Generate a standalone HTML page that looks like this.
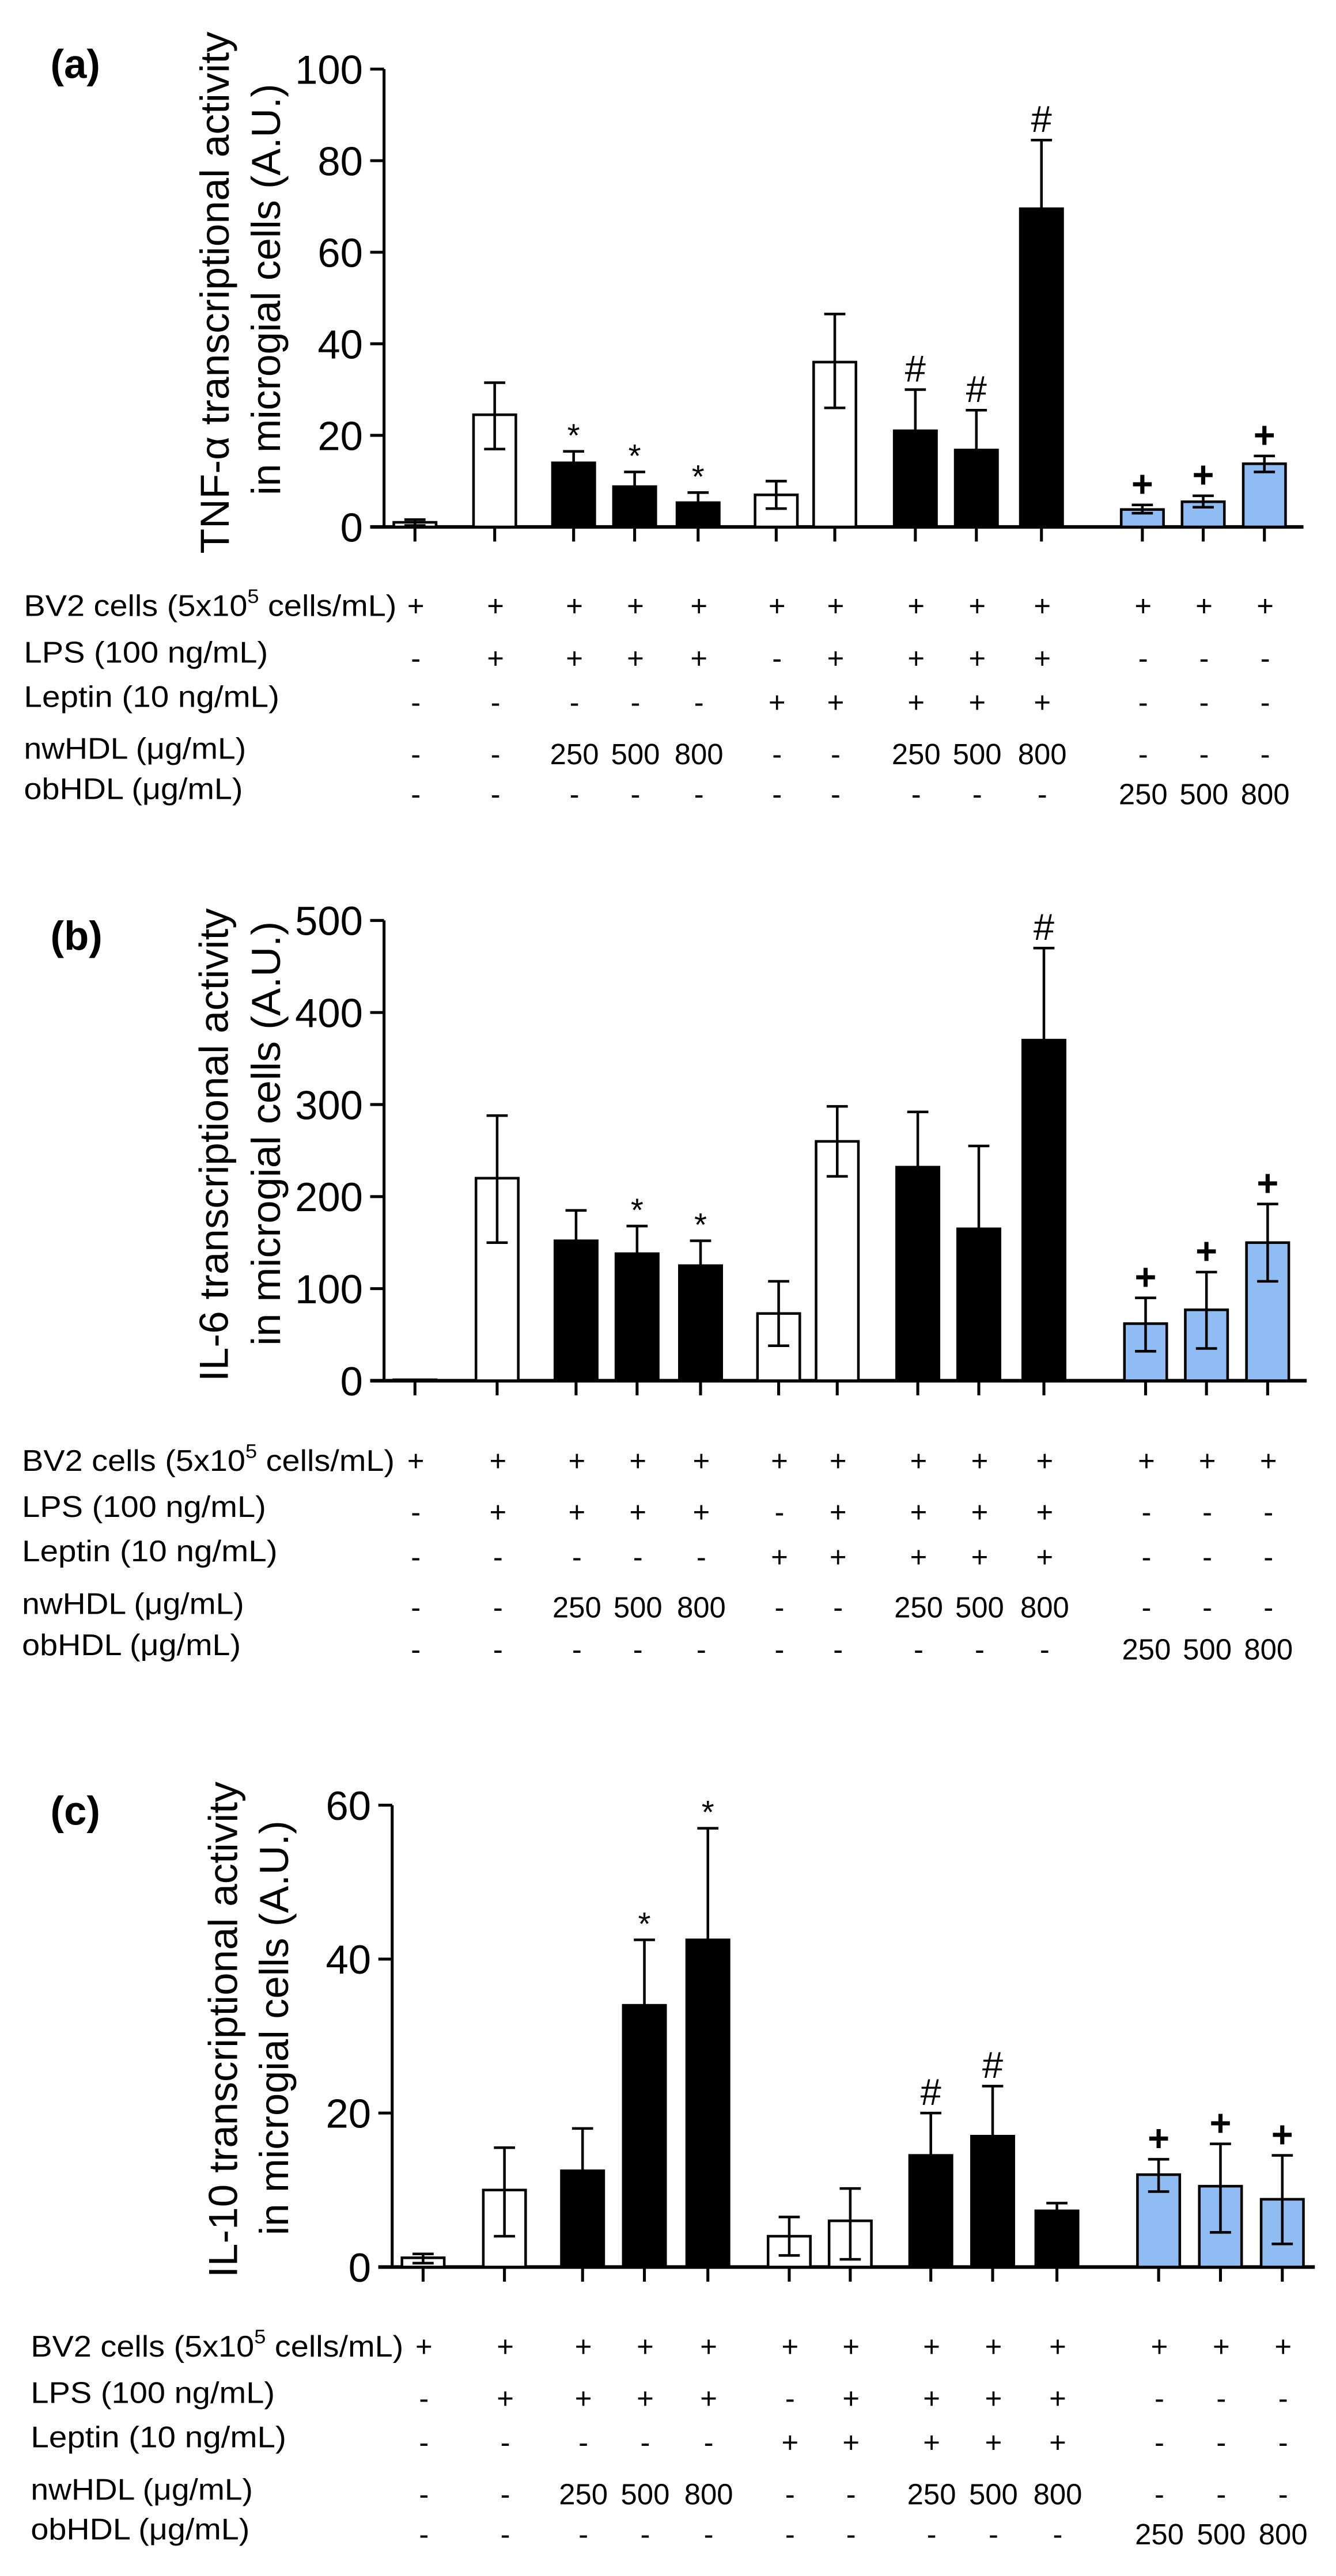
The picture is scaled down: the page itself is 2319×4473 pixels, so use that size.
<!DOCTYPE html>
<html><head><meta charset="utf-8">
<style>
html,body{margin:0;padding:0;background:#fff;}
svg{display:block;}
text{font-family:"Liberation Sans",sans-serif;fill:#000;}
</style></head>
<body>
<svg id="s" width="2319" height="4473" viewBox="0 0 821 1584" preserveAspectRatio="none" xmlns="http://www.w3.org/2000/svg"></svg>
<script>
const S=document.getElementById('s');const NS='http://www.w3.org/2000/svg';
function el(t,a,txt){const e=document.createElementNS(NS,t);for(const k in a)e.setAttribute(k,a[k]);if(txt!==undefined)e.textContent=txt;S.appendChild(e);return e;}
function line(x1,y1,x2,y2,w){el('line',{x1,y1,x2,y2,stroke:'#000','stroke-width':w||1.6});}
const BLUE='#8fbcf2';
const colors=['w','w','k','k','k','w','w','k','k','k','b','b','b'];
const rows=[
 ['BV2 cells (5x10','+','+','+','+','+','+','+','+','+','+','+','+','+'],
 ['LPS (100 ng/mL)','-','+','+','+','+','-','+','+','+','+','-','-','-'],
 ['Leptin (10 ng/mL)','-','-','-','-','-','+','+','+','+','+','-','-','-'],
 ['nwHDL (\u03bcg/mL)','-','-','250','500','800','-','-','250','500','800','-','-','-'],
 ['obHDL (\u03bcg/mL)','-','-','-','-','-','-','-','-','-','-','250','500','800']];
const labLen=[null,150,157,136.5,134.5];
function panel(p){
 const {lab,labY,ax,y0,yTop,max,step,xs,xEnd,vals,ann,yl1,yl2,b1,b2,c1,c2,len1,len2,rowL,rowV,labX}=p;
 el('text',{x:31,y:labY,'font-size':25,'font-weight':'bold'},lab);
 const sc=(y0-yTop)/max;
 line(ax,yTop,ax,y0+1,1.8);
 line(ax-8.5,y0,xEnd,y0,2.2);
 for(let v=0;v<=max+1e-9;v+=step){const y=y0-v*sc;line(ax-8.5,y,ax,y,1.8);
  el('text',{x:ax-13,y:y+9,'font-size':25,'text-anchor':'end'},String(v));}
 const bw=26;
 vals.forEach((d,i)=>{const [v,lo,hi]=d;const x=xs[i];const top=y0-v*sc;
  line(x,y0,x,y0+9,1.8);
  const c=colors[i];const f=c=='w'?'#fff':c=='k'?'#000':BLUE;
  el('rect',{x:x-bw/2,y:top,width:bw,height:y0-top,fill:f,stroke:'#000','stroke-width':1.6});
  if(hi!=null){const yh=y0-hi*sc;line(x,top,x,yh);line(x-6.5,yh,x+6.5,yh);}
  if(lo!=null&&c!='k'){const yl=y0-lo*sc;line(x,top,x,yl);line(x-6.5,yl,x+6.5,yl);}
  if(ann[i]){const yh=y0-(hi!=null?hi:v)*sc;
   el('text',{x:x,y:yh-(ann[i]=='*'?3:5),'font-size':ann[i]=='*'?20:23,'text-anchor':'middle','font-weight':ann[i]=='+'?'bold':'normal'},ann[i]);}
 });
 el('text',{transform:`translate(${b1},${c1}) rotate(-90)`,x:0,y:0,'font-size':25,'text-anchor':'middle',textLength:len1,lengthAdjust:'spacingAndGlyphs'},yl1);
 el('text',{transform:`translate(${b2},${c2}) rotate(-90)`,x:0,y:0,'font-size':25,'text-anchor':'middle',textLength:len2,lengthAdjust:'spacingAndGlyphs'},yl2);
 rows.forEach((r,ri)=>{
  if(ri==0){const t=el('text',{x:labX,y:rowL[0],'font-size':18.5,textLength:229,lengthAdjust:'spacingAndGlyphs'});
   t.appendChild(document.createTextNode('BV2 cells (5x10'));
   const s=document.createElementNS(NS,'tspan');s.setAttribute('dy',-8);s.setAttribute('font-size',12);s.textContent='5';t.appendChild(s);
   const s2=document.createElementNS(NS,'tspan');s2.setAttribute('dy',8);s2.textContent=' cells/mL)';t.appendChild(s2);}
  else el('text',{x:labX,y:rowL[ri],'font-size':18.5,textLength:labLen[ri],lengthAdjust:'spacingAndGlyphs'},r[0]);
  for(let i=0;i<13;i++)el('text',{x:xs[i]+0.5,y:rowV[ri],'font-size':18,'text-anchor':'middle'},r[i+1]);
 });
}
panel({lab:'(a)',labY:48,ax:236,y0:324,yTop:42.5,max:100,step:20,xEnd:801,
 xs:[255,304,352.5,390,429,477,513,562.5,600,640,702,739.4,777],
 vals:[[1,0.3,1.6],[24.5,17,31.5],[14,null,16.5],[8.8,null,12],[5.3,null,7.5],[7,4,10],[36,26,46.5],[21,null,30],[16.8,null,25.5],[69.5,null,84.5],[3.8,3,4.8],[5.5,4.3,6.8],[13.8,12,15.5]],
 ann:['','','*','*','*','','','#','#','#','+','+','+'],
 yl1:'TNF-\u03b1 transcriptional activity',yl2:'in microgial cells (A.U.)',b1:140.5,b2:172,c1:180,c2:178,len1:321,len2:253,
 labX:14.7,rowL:[378.7,407.4,434.7,466.6,491.3],rowV:[378.7,411,438,470,494.5]});
panel({lab:'(b)',labY:584,ax:236,y0:849,yTop:566,max:500,step:100,xEnd:803,
 xs:[255,305.5,354,391.5,430.5,478.5,514.5,564,601.5,641.5,704,741.4,779],
 vals:[[1,null,null],[220,150,288],[152,null,185],[138,null,168],[125,null,152],[73,38,108],[260,222,298],[232,null,292],[165,null,255],[370,null,470],[62,32,90],[77,35,118],[150,108,192]],
 ann:['','','','*','*','','','','','#','+','+','+'],
 yl1:'IL-6 transcriptional activity',yl2:'in microgial cells (A.U.)',b1:140,b2:172,c1:704,c2:697,len1:291,len2:261,
 labX:13.5,rowL:[904.4,932.8,960,992.4,1017.7],rowV:[904.4,936,963.5,994.5,1020.5]});
panel({lab:'(c)',labY:1122,ax:241,y0:1394,yTop:1110,max:60,step:20,xEnd:808,
 xs:[260,310,358,396,435,485,522.5,572,610,649.5,712,750,788],
 vals:[[1.2,0.5,1.7],[10,4,15.5],[12.5,null,18],[34,null,42.5],[42.5,null,57],[4,1.5,6.5],[6,1,10.2],[14.5,null,20],[17,null,23.5],[7.3,null,8.3],[12,9.8,14],[10.5,4.5,16],[8.8,3,14.5]],
 ann:['','','','*','*','','','#','#','','+','+','+'],
 yl1:'IL-10 transcriptional activity',yl2:'in microgial cells (A.U.)',b1:145.6,b2:177,c1:1248,c2:1247,len1:305,len2:255,
 labX:18.9,rowL:[1449,1477.6,1504.9,1537,1561.5],rowV:[1449,1481,1508,1540,1564.5]});
</script>
</body></html>
